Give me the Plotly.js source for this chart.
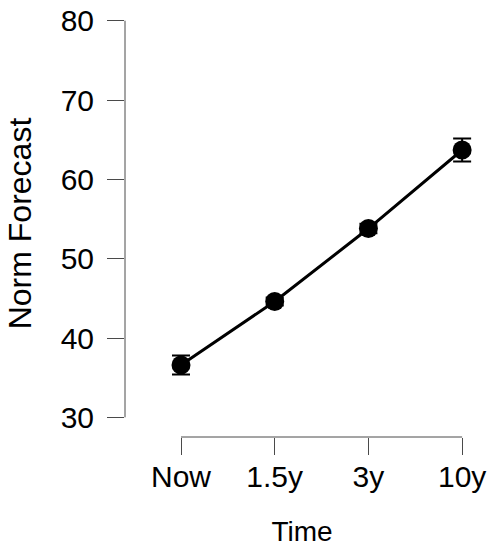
<!DOCTYPE html>
<html>
<head>
<meta charset="utf-8">
<script src="https://cdn.plot.ly/plotly-3.0.1.min.js"></script>
<style>html,body{margin:0;padding:0;background:#fff;}#chart{width:489px;height:550px;}</style>
</head>
<body>
<div id="chart"></div>
<script>
const categories = ["Now", "1.5y", "3y", "10y"];
const forecast = [36.6, 44.6, 53.8, 63.7];
const errors = [1.2, 0.5, 0.6, 1.45];
const yTicks = [30, 40, 50, 60, 70, 80];

const xPos = categories.map((c, i) => i + 1);
const axisColor = "#4a4a4a";
const fam = "Liberation Sans, Arial, sans-serif";
const tickFont = {family: fam, size: 30, color: "#000"};

const trace = {
  x: xPos,
  y: forecast,
  type: "scatter",
  mode: "lines+markers",
  cliponaxis: false,
  line: {color: "#000", width: 3},
  marker: {color: "#000", size: 19, symbol: "circle"},
  error_y: {type: "data", array: errors, visible: true, color: "#000", thickness: 2, width: 9}
};

const layout = {
  width: 489,
  height: 550,
  margin: {l: 125, r: 10, t: 10, b: 113},
  paper_bgcolor: "#fff",
  plot_bgcolor: "#fff",
  showlegend: false,
  font: tickFont,
  xaxis: {
    range: [0.4024, 4.18],
    tickmode: "array",
    tickvals: xPos,
    ticktext: categories,
    ticks: "outside",
    ticklen: 17,
    tickwidth: 1,
    tickcolor: axisColor,
    showline: false,
    showgrid: false,
    zeroline: false,
    tickfont: tickFont,
    ticklabelstandoff: -4,
    title: {text: "Time", font: {family: fam, size: 28, color: "#000"}, standoff: 29}
  },
  yaxis: {
    range: [27.52, 81.35],
    tickmode: "array",
    tickvals: yTicks,
    ticks: "outside",
    ticklen: 17,
    tickwidth: 1,
    tickcolor: axisColor,
    showline: false,
    showgrid: false,
    zeroline: false,
    tickfont: tickFont,
    ticklabelstandoff: 7,
    title: {text: "Norm Forecast", font: {family: fam, size: 32, color: "#000"}, standoff: 19}
  },
  shapes: [
    {type: "line", xref: "x", yref: "paper", x0: xPos[0], x1: xPos[xPos.length - 1], y0: 0, y1: 0,
     line: {color: axisColor, width: 1}},
    {type: "line", xref: "paper", yref: "y", x0: 0, x1: 0, y0: yTicks[0], y1: yTicks[yTicks.length - 1],
     line: {color: axisColor, width: 1}}
  ]
};

Plotly.newPlot("chart", [trace], layout, {displayModeBar: false, staticPlot: true});
</script>
</body>
</html>
